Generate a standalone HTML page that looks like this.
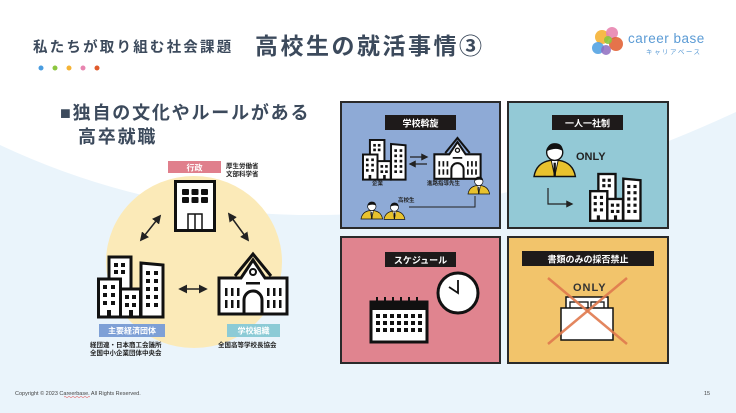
<!DOCTYPE html>
<html><head><meta charset="utf-8">
<style>
html,body{margin:0;padding:0;background:#fff;}
svg{display:block;}
text{font-family:"Liberation Sans","Noto Sans CJK JP",sans-serif;}
</style></head>
<body>
<svg width="736" height="413" viewBox="0 0 736 413" xmlns="http://www.w3.org/2000/svg">
<defs>
<g id="bld">
  <rect x="12" y="0" width="22" height="34" fill="#fff" stroke="#111" stroke-width="3"/>
  <rect x="1.5" y="22" width="22" height="38" fill="#fff" stroke="#111" stroke-width="3"/>
  <rect x="23.5" y="32" width="20" height="28" fill="#fff" stroke="#111" stroke-width="3"/>
  <path d="M44 6 L66 8 L66 60 L44 60 Z" fill="#fff" stroke="#111" stroke-width="3"/>
  <g fill="#111">
    <rect x="17" y="6" width="4" height="4"/><rect x="24" y="6" width="4" height="4"/>
    <rect x="17" y="13" width="4" height="4"/><rect x="24" y="13" width="4" height="4"/>
    <rect x="6" y="28" width="4" height="4"/><rect x="14" y="28" width="4" height="4"/>
    <rect x="6" y="36" width="4" height="4"/><rect x="14" y="36" width="4" height="4"/>
    <rect x="6" y="44" width="4" height="4"/><rect x="14" y="44" width="4" height="4"/>
    <rect x="28" y="38" width="4" height="4"/><rect x="35" y="38" width="4" height="4"/>
    <rect x="28" y="46" width="4" height="4"/><rect x="35" y="46" width="4" height="4"/>
    <rect x="49" y="14" width="4" height="4"/><rect x="57" y="14" width="4" height="4"/>
    <rect x="49" y="22" width="4" height="4"/><rect x="57" y="22" width="4" height="4"/>
    <rect x="49" y="30" width="4" height="4"/><rect x="57" y="30" width="4" height="4"/>
    <rect x="49" y="38" width="4" height="4"/><rect x="57" y="38" width="4" height="4"/>
    <rect x="49" y="46" width="4" height="4"/><rect x="57" y="46" width="4" height="4"/>
    <rect x="10" y="53" width="4" height="7"/><rect x="32" y="53" width="4" height="7"/>
  </g>
</g>
<g id="school">
  <path d="M2 24 L24 24 L36 6 L48 24 L70 24 L70 60 L2 60 Z" fill="#fff" stroke="#111" stroke-width="3"/>
  <path d="M18 22 L36 0 L54 22" fill="none" stroke="#111" stroke-width="3"/>
  <circle cx="36" cy="18" r="3" fill="none" stroke="#111" stroke-width="2"/>
  <rect x="29" y="28" width="14" height="2.5" fill="#111"/>
  <path d="M27 60 L27 46 A9 9 0 0 1 45 46 L45 60" fill="none" stroke="#111" stroke-width="3"/>
  <g fill="#111">
    <rect x="8" y="34" width="2.5" height="8"/><rect x="14" y="34" width="2.5" height="8"/><rect x="20" y="34" width="2.5" height="8"/>
    <rect x="8" y="46" width="2.5" height="8"/><rect x="14" y="46" width="2.5" height="8"/><rect x="20" y="46" width="2.5" height="8"/>
    <rect x="50" y="34" width="2.5" height="8"/><rect x="56" y="34" width="2.5" height="8"/><rect x="62" y="34" width="2.5" height="8"/>
    <rect x="50" y="46" width="2.5" height="8"/><rect x="56" y="46" width="2.5" height="8"/><rect x="62" y="46" width="2.5" height="8"/>
  </g>
</g>
<marker id="ah" viewBox="0 0 10 10" refX="8" refY="5" markerWidth="6" markerHeight="6" orient="auto-start-reverse">
  <path d="M0 0 L10 5 L0 10 Z" fill="#222"/>
</marker>
<g id="person">
  <path d="M0 30 Q2 18 14 16 L22 16 Q34 18 36 30 Z" fill="#e8c22e" stroke="#111" stroke-width="1.2"/>
  <path d="M15 16 L18 30 L21 16 Z" fill="#fff" stroke="#111" stroke-width="0.8"/>
  <rect x="17" y="18" width="2" height="12" fill="#111"/>
  <circle cx="18" cy="9" r="7" fill="#fff" stroke="#111" stroke-width="1.2"/>
  <path d="M11 8 Q12 1 18 1 Q25 1 25 8 Q20 4 11 8 Z" fill="#111"/>
</g>
</defs>

<path d="M0 145 Q330 300 736 112 L736 413 L0 413 Z" fill="#eaf4fb"/>

<text x="33" y="52" font-size="14.5" font-weight="bold" fill="#3c4a5c" letter-spacing="2.2">私たちが取り組む社会課題</text>
<text x="255" y="54" font-size="23" font-weight="bold" fill="#3c4a5c" letter-spacing="2.5">高校生の就活事情③</text>
<circle cx="41" cy="68" r="2.5" fill="#4a9de0"/>
<circle cx="55" cy="68" r="2.5" fill="#8cc63f"/>
<circle cx="69" cy="68" r="2.5" fill="#f5b335"/>
<circle cx="83" cy="68" r="2.5" fill="#e885b0"/>
<circle cx="97" cy="68" r="2.5" fill="#e05a2b"/>

<g>
  <circle cx="602" cy="37" r="7" fill="#f5b335" opacity="0.9"/>
  <circle cx="612" cy="33" r="6" fill="#e885b0" opacity="0.9"/>
  <circle cx="616" cy="44" r="7" fill="#e05a2b" opacity="0.85"/>
  <circle cx="598" cy="48" r="6" fill="#4a9de0" opacity="0.85"/>
  <circle cx="606" cy="50" r="5" fill="#8e6cc0" opacity="0.85"/>
  <circle cx="608" cy="40" r="4" fill="#8cc63f" opacity="0.9"/>
</g>
<text x="628" y="43" font-size="13.5" fill="#5b9bd5" letter-spacing="0.5" font-family="Liberation Mono, monospace">career base</text>
<text x="646" y="54" font-size="6.5" fill="#5b9bd5" letter-spacing="1.5">キャリアベース</text>

<text x="60" y="119" font-size="18" font-weight="bold" fill="#3c4a5c" letter-spacing="1.8">■独自の文化やルールがある</text>
<text x="78" y="143" font-size="18" font-weight="bold" fill="#3c4a5c" letter-spacing="1.8">高卒就職</text>

<ellipse cx="194" cy="262" rx="88" ry="86" fill="#fbeab8"/>
<rect x="168" y="161" width="53" height="12" fill="#e07f8c"/>
<text x="194.5" y="170.5" font-size="8" font-weight="bold" fill="#fff" text-anchor="middle">行政</text>
<text x="226" y="168" font-size="6.5" font-weight="bold" fill="#222">厚生労働省</text>
<text x="226" y="176" font-size="6.5" font-weight="bold" fill="#222">文部科学省</text>

<rect x="175.5" y="181.5" width="39" height="49" fill="#fff" stroke="#111" stroke-width="3"/>
<g fill="#111">
  <rect x="182" y="189" width="7" height="6" rx="1"/><rect x="191.5" y="189" width="7" height="6" rx="1"/><rect x="201" y="189" width="7" height="6" rx="1"/>
  <rect x="182" y="197" width="7" height="6" rx="1"/><rect x="191.5" y="197" width="7" height="6" rx="1"/><rect x="201" y="197" width="7" height="6" rx="1"/>
</g>
<rect x="188" y="214" width="14" height="16" fill="none" stroke="#111" stroke-width="1.5"/>
<line x1="195" y1="214" x2="195" y2="230" stroke="#111" stroke-width="1.5"/>

<use href="#bld" x="97" y="257"/>
<use href="#school" x="217" y="254"/>

<line x1="160" y1="216" x2="141" y2="240" stroke="#222" stroke-width="1.5" marker-start="url(#ah)" marker-end="url(#ah)"/>
<line x1="229" y1="214" x2="248" y2="240" stroke="#222" stroke-width="1.5" marker-start="url(#ah)" marker-end="url(#ah)"/>
<line x1="180" y1="289" x2="206" y2="289" stroke="#222" stroke-width="1.5" marker-start="url(#ah)" marker-end="url(#ah)"/>

<rect x="99" y="324" width="66" height="13" fill="#7ea0d6"/>
<text x="132" y="333.5" font-size="8" font-weight="bold" fill="#fff" text-anchor="middle">主要経済団体</text>
<rect x="227" y="324" width="53" height="13" fill="#8ccbd6"/>
<text x="253.5" y="333.5" font-size="8" font-weight="bold" fill="#fff" text-anchor="middle">学校組織</text>
<text x="90" y="347" font-size="6.5" font-weight="bold" fill="#222">経団連・日本商工会議所</text>
<text x="90" y="355" font-size="6.5" font-weight="bold" fill="#222">全国中小企業団体中央会</text>
<text x="218" y="347" font-size="6.5" font-weight="bold" fill="#222">全国高等学校長協会</text>

<rect x="341" y="102" width="159" height="126" fill="#8eaad6" stroke="#2a2a2a" stroke-width="2"/>
<rect x="385" y="115" width="71" height="15" fill="#1e1a1a"/>
<text x="420.5" y="126.5" font-size="9" font-weight="bold" fill="#fff" text-anchor="middle">学校斡旋</text>
<g transform="translate(362,140) scale(0.66)"><use href="#bld"/></g>
<g transform="translate(433,138) scale(0.68)"><use href="#school"/></g>
<line x1="410" y1="157" x2="427" y2="157" stroke="#222" stroke-width="1.2" marker-end="url(#ah)"/>
<line x1="427" y1="164" x2="410" y2="164" stroke="#222" stroke-width="1.2" marker-end="url(#ah)"/>
<text x="372" y="185" font-size="5.5" font-weight="bold" fill="#222">企業</text>
<text x="427" y="185" font-size="5.5" font-weight="bold" fill="#222">進路指導先生</text>
<g transform="translate(468,176) scale(0.6)"><use href="#person"/></g>
<g transform="translate(361,201) scale(0.6)"><use href="#person"/></g>
<g transform="translate(384,202) scale(0.58)"><use href="#person"/></g>
<text x="398" y="202" font-size="5.5" font-weight="bold" fill="#222">高校生</text>
<polyline points="409,207 475,207 475,196" fill="none" stroke="#222" stroke-width="1"/>

<rect x="508" y="102" width="160" height="126" fill="#93c9d6" stroke="#2a2a2a" stroke-width="2"/>
<rect x="552" y="115" width="71" height="15" fill="#1e1a1a"/>
<text x="587.5" y="126.5" font-size="9" font-weight="bold" fill="#fff" text-anchor="middle">一人一社制</text>
<text x="576" y="160" font-size="11" font-weight="bold" fill="#222">ONLY</text>
<g transform="translate(534,142) scale(1.15)"><use href="#person"/></g>
<polyline points="548,188 548,204 572,204" fill="none" stroke="#222" stroke-width="1.2" marker-end="url(#ah)"/>
<g transform="translate(589,174) scale(0.78)"><use href="#bld"/></g>

<rect x="341" y="237" width="159" height="126" fill="#e0848f" stroke="#2a2a2a" stroke-width="2"/>
<rect x="385" y="252" width="71" height="15" fill="#1e1a1a"/>
<text x="420.5" y="263.5" font-size="9" font-weight="bold" fill="#fff" text-anchor="middle">スケジュール</text>
<circle cx="458" cy="293" r="20" fill="#fff" stroke="#111" stroke-width="3"/>
<polyline points="458,280 458,293 449,287" fill="none" stroke="#111" stroke-width="1.8"/>
<rect x="371" y="302" width="56" height="40" fill="#fff" stroke="#111" stroke-width="3"/>
<rect x="371" y="302" width="56" height="8" fill="#111"/>
<g stroke="#111" stroke-width="2">
  <line x1="377" y1="297" x2="377" y2="305"/><line x1="385" y1="297" x2="385" y2="305"/><line x1="393" y1="297" x2="393" y2="305"/>
  <line x1="401" y1="297" x2="401" y2="305"/><line x1="409" y1="297" x2="409" y2="305"/><line x1="417" y1="297" x2="417" y2="305"/>
</g>
<g fill="#111">
  <rect x="376" y="314" width="4" height="4"/><rect x="383" y="314" width="4" height="4"/><rect x="390" y="314" width="4" height="4"/><rect x="397" y="314" width="4" height="4"/><rect x="404" y="314" width="4" height="4"/><rect x="411" y="314" width="4" height="4"/><rect x="418" y="314" width="4" height="4"/>
  <rect x="376" y="321" width="4" height="4"/><rect x="383" y="321" width="4" height="4"/><rect x="390" y="321" width="4" height="4"/><rect x="397" y="321" width="4" height="4"/><rect x="404" y="321" width="4" height="4"/><rect x="411" y="321" width="4" height="4"/><rect x="418" y="321" width="4" height="4"/>
  <rect x="376" y="328" width="4" height="4"/><rect x="383" y="328" width="4" height="4"/><rect x="390" y="328" width="4" height="4"/><rect x="397" y="328" width="4" height="4"/><rect x="404" y="328" width="4" height="4"/><rect x="411" y="328" width="4" height="4"/><rect x="418" y="328" width="4" height="4"/>
</g>

<rect x="508" y="237" width="160" height="126" fill="#f2c46b" stroke="#2a2a2a" stroke-width="2"/>
<rect x="522" y="251" width="132" height="15" fill="#1e1a1a"/>
<text x="588" y="262.5" font-size="9" font-weight="bold" fill="#fff" text-anchor="middle">書類のみの採否禁止</text>
<text x="573" y="291" font-size="11" font-weight="bold" fill="#333" letter-spacing="1">ONLY</text>
<rect x="566" y="297" width="42" height="20" fill="#fff" stroke="#111" stroke-width="1.5"/>
<rect x="570" y="302" width="18" height="12" fill="none" stroke="#111" stroke-width="1.3"/>
<rect x="591" y="302" width="13" height="12" fill="none" stroke="#111" stroke-width="1.3"/>
<rect x="561" y="308" width="52" height="32" fill="#fff" stroke="#111" stroke-width="1.5"/>
<line x1="548" y1="278" x2="627" y2="344" stroke="#e07a4e" stroke-width="2.5" opacity="0.9"/>
<line x1="627" y1="278" x2="548" y2="344" stroke="#e07a4e" stroke-width="2.5" opacity="0.9"/>

<text x="15" y="395" font-size="5.5" fill="#444">Copyright © 2023 Careerbase. All Rights Reserved.</text>
<path d="M64 397 q1 -1 2 0 t2 0 t2 0 t2 0 t2 0 t2 0 t2 0 t2 0 t2 0 t2 0 t2 0 t2 0 t2 0" fill="none" stroke="#d33" stroke-width="0.5"/>
<text x="704" y="395" font-size="5.5" fill="#444">15</text>
</svg>
</body></html>
